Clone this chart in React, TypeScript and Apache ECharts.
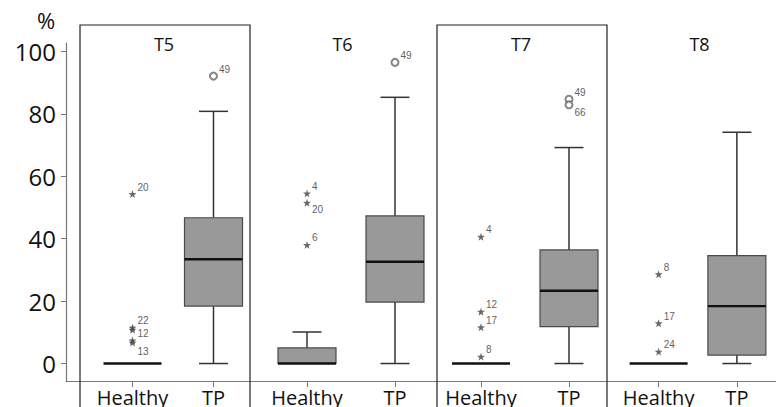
import React, { useEffect, useRef } from "react";
import * as echarts from "echarts";

// Time points, each drawn as its own small panel
const panels = ["T5", "T6", "T7", "T8"];
const categories = ["Healthy", "TP"];

// [min, Q1, median, Q3, max] per time point
const healthyBoxes = [
  [0, 0, 0, 0, 0],
  [0, 0, 0, 5.0, 10.1],
  [0, 0, 0, 0, 0],
  [0, 0, 0, 0, 0],
];
const tpBoxes = [
  [0, 18.4, 33.4, 46.7, 80.8],
  [0, 19.7, 32.6, 47.3, 85.3],
  [0, 11.8, 23.3, 36.4, 69.2],
  [0, 2.7, 18.4, 34.6, 74.1],
];

// Outlying cases: [panel, category, value, case number, kind]
// kind: "extreme" (star) or "outlier" (open circle)
const outliers: [number, number, number, string, string][] = [
  [0, 0, 54.3, "20", "extreme"],
  [0, 0, 11.5, "22", "extreme"],
  [0, 0, 10.8, "12", "extreme"],
  [0, 0, 7.4, "", "extreme"],
  [0, 0, 6.7, "13", "extreme"],
  [0, 1, 92.1, "49", "outlier"],
  [1, 0, 54.5, "4", "extreme"],
  [1, 0, 51.5, "20", "extreme"],
  [1, 0, 38.0, "6", "extreme"],
  [1, 1, 96.5, "49", "outlier"],
  [2, 0, 40.6, "4", "extreme"],
  [2, 0, 16.6, "12", "extreme"],
  [2, 0, 11.6, "17", "extreme"],
  [2, 0, 2.2, "8", "extreme"],
  [2, 1, 84.7, "49", "outlier"],
  [2, 1, 82.9, "66", "outlier"],
  [3, 0, 28.6, "8", "extreme"],
  [3, 0, 12.9, "17", "extreme"],
  [3, 0, 3.8, "24", "extreme"],
];

const yTicks = [0, 20, 40, 60, 80, 100];
const Y_MIN = -5.6;
const Y_MAX = 102.7;

// Case labels that sit below-right of their marker rather than above-right
const labelShiftBelow: Record<string, number> = {
  "0:12": 4,
  "0:13": 9,
  "1:20": 7,
  "2:66": 8,
};

const STAR =
  "path://M0,-10 L2.35,-3.24 9.51,-3.09 3.8,1.24 5.88,8.09 0,4 -5.88,8.09 -3.8,1.24 -9.51,-3.09 -2.35,-3.24 Z";

// Panel frames and the plotting area inside each
const PANEL_STEP = 178.5;
const PANEL_LEFT = 80;
const PLOT_LEFT = [92, 263, 437, 619.5];
const PLOT_WIDTH = [162, 176, 176, 170];
const GRID_TOP = 43;
const GRID_HEIGHT = 338;
const FONT = "'Open Sans', 'Noto Sans', sans-serif";
const LABEL_FONT = "'Liberation Sans', Arial, sans-serif";

function renderBox(params: any, api: any) {
  const cat = api.value(0);
  const mn = api.value(1);
  const q1 = api.value(2);
  const md = api.value(3);
  const q3 = api.value(4);
  const mx = api.value(5);
  const pMin = api.coord([cat, mn]);
  const pQ1 = api.coord([cat, q1]);
  const pMd = api.coord([cat, md]);
  const pQ3 = api.coord([cat, q3]);
  const pMax = api.coord([cat, mx]);
  const cx = pMd[0];
  const hw = 29;
  const cap = 14.5;
  const lineStyle = { stroke: "#333333", lineWidth: 1.5 };
  const children: any[] = [];
  if (mx > q3) {
    children.push({ type: "line", shape: { x1: cx, y1: pQ3[1], x2: cx, y2: pMax[1] }, style: lineStyle });
    children.push({ type: "line", shape: { x1: cx - cap, y1: pMax[1], x2: cx + cap, y2: pMax[1] }, style: lineStyle });
  }
  if (mn < q1) {
    children.push({ type: "line", shape: { x1: cx, y1: pQ1[1], x2: cx, y2: pMin[1] }, style: lineStyle });
    children.push({ type: "line", shape: { x1: cx - cap, y1: pMin[1], x2: cx + cap, y2: pMin[1] }, style: lineStyle });
  }
  if (q3 > q1) {
    children.push({
      type: "rect",
      shape: { x: cx - hw, y: pQ3[1], width: hw * 2, height: pQ1[1] - pQ3[1] },
      style: { fill: "#999999", stroke: "#4a4a4a", lineWidth: 1.2 },
    });
  }
  children.push({
    type: "line",
    shape: { x1: cx - hw, y1: pMd[1], x2: cx + hw, y2: pMd[1] },
    style: { stroke: "#111111", lineWidth: 2.4 },
  });
  return { type: "group", children };
}

export default function App() {
  const ref = useRef<HTMLDivElement>(null);

  useEffect(() => {
    if (!ref.current) return;
    const chart = echarts.init(ref.current, undefined, { renderer: "svg" });

    const grids: any[] = [
      { left: 66, top: GRID_TOP, width: 710, height: GRID_HEIGHT },
    ];
    const xAxes: any[] = [
      {
        gridIndex: 0,
        type: "value",
        min: 0,
        max: 1,
        axisLine: { show: true, onZero: false, lineStyle: { color: "#777", width: 1.2 } },
        axisTick: { show: false },
        axisLabel: { show: false },
        splitLine: { show: false },
      },
    ];
    const yAxes: any[] = [
      {
        gridIndex: 0,
        type: "value",
        min: Y_MIN,
        max: Y_MAX,
        axisLine: { show: true, lineStyle: { color: "#777", width: 1.2 } },
        axisTick: { show: true, length: 5, customValues: yTicks, lineStyle: { color: "#777" } },
        axisLabel: {
          customValues: yTicks,
          fontSize: 24,
          fontFamily: FONT,
          color: "#111",
          margin: 10,
        },
        splitLine: { show: false },
      },
    ];
    const series: any[] = [];
    const graphics: any[] = [
      {
        type: "text",
        x: 46,
        y: 20,
        style: {
          text: "%",
          font: `22px ${FONT}`,
          fill: "#111",
          align: "center",
          verticalAlign: "middle",
          textAlign: "center",
          textVerticalAlign: "middle",
        },
      },
    ];

    panels.forEach((name, i) => {
      const left = PANEL_LEFT + PANEL_STEP * i;
      const g = i + 1;
      grids.push({ left: PLOT_LEFT[i], top: GRID_TOP, width: PLOT_WIDTH[i], height: GRID_HEIGHT });
      xAxes.push({
        gridIndex: g,
        type: "category",
        data: categories,
        axisLine: { show: true, onZero: false, lineStyle: { color: "#777", width: 1.2 } },
        axisTick: { show: true, alignWithLabel: true, length: 6, lineStyle: { color: "#777" } },
        axisLabel: { interval: 0, fontSize: 20, fontFamily: FONT, color: "#111", margin: 6 },
        splitLine: { show: false },
      });
      yAxes.push({
        gridIndex: g,
        type: "value",
        min: Y_MIN,
        max: Y_MAX,
        show: false,
        splitLine: { show: false },
      });

      series.push({
        type: "custom",
        xAxisIndex: g,
        yAxisIndex: g,
        renderItem: renderBox,
        encode: { x: 0, y: [1, 2, 3, 4, 5] },
        data: [
          [0, ...healthyBoxes[i]],
          [1, ...tpBoxes[i]],
        ],
        z: 2,
      });

      const pts = outliers
        .filter((o) => o[0] === i)
        .map((o) => {
          const below = labelShiftBelow[`${i}:${o[3]}`];
          const extreme = o[4] === "extreme";
          return {
            value: [o[1], o[2]],
            name: o[3],
            symbol: extreme ? STAR : "emptyCircle",
            symbolSize: extreme ? 8 : 7,
            itemStyle: extreme
              ? { color: "#444" }
              : { color: "#666", borderColor: "#666", borderWidth: 1.2 },
            label: {
              show: o[3] !== "",
              position: "right",
              distance: 1,
              offset: [0, below !== undefined ? below : -7],
              fontSize: 10,
              fontFamily: LABEL_FONT,
              color: "#333",
            },
          };
        });
      series.push({
        type: "scatter",
        xAxisIndex: g,
        yAxisIndex: g,
        data: pts,
        z: 3,
        label: {
          formatter: (p: any) => p.name,
          fontSize: 10,
          fontFamily: LABEL_FONT,
          color: "#333",
        },
      });

      graphics.push({
        type: "text",
        x: left + 84,
        y: 44,
        style: {
          text: name,
          font: `18px ${FONT}`,
          fill: "#111",
          align: "center",
          verticalAlign: "middle",
          textAlign: "center",
          textVerticalAlign: "middle",
        },
      });
      if (i % 2 === 0) {
        graphics.push({
          type: "rect",
          shape: { x: left, y: 25, width: 170, height: 400 },
          style: { fill: "none", stroke: "#222", lineWidth: 1.2 },
          z: 10,
        });
      }
    });

    chart.setOption({
      animation: false,
      backgroundColor: "#fff",
      grid: grids,
      xAxis: xAxes,
      yAxis: yAxes,
      series,
      graphic: graphics,
    });

    return () => chart.dispose();
  }, []);

  return (
    <div
      ref={ref}
      style={{ position: "absolute", left: 0, top: 0, width: 776, height: 407 }}
    />
  );
}
